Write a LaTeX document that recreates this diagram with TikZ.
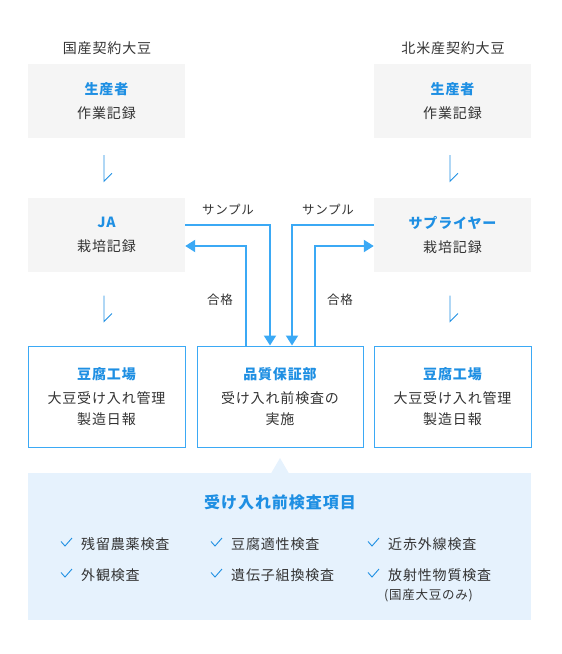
\documentclass[tikz,border=0pt]{standalone}
\usepackage{fontspec}
\setmainfont{Noto Sans CJK JP}[LetterSpace=6]
\usetikzlibrary{arrows.meta}
\definecolor{qblue}{HTML}{1E8FE3}
\definecolor{qline}{HTML}{3BA9F5}
\definecolor{qgrey}{HTML}{F5F5F5}
\definecolor{qpanel}{HTML}{E6F2FD}
\definecolor{qtext}{HTML}{333333}
\tikzset{
  greybox/.style={fill=qgrey, minimum width=157pt, minimum height=74pt, inner sep=0pt,
    align=center, text=qtext, font=\fontsize{14}{24}\selectfont},
  whitebox/.style={draw=qline, line width=1pt, fill=white, minimum height=101pt, inner sep=0pt,
    align=center, text=qtext, font=\fontsize{14}{21}\selectfont},
  flow/.style={draw=qline, line width=2pt, -{Triangle[length=10pt,width=12pt]}},
  tick/.style={draw=qblue, line width=0.9pt},
  lbl/.style={text=qtext, font=\fontsize{12.5}{14}\selectfont},
  item/.style={anchor=west, inner sep=0pt, text=qtext, font=\fontsize{14}{16}\selectfont},
}
\begin{document}
\begin{tikzpicture}[x=1pt, y=-1pt]
  \useasboundingbox (0,0) rectangle (562,654);

  % Titles
  \node[text=qtext, font=\fontsize{14}{16}\selectfont] (titleL) at (107,48) {国産契約大豆};
  \node[text=qtext, font=\fontsize{14}{16}\selectfont] (titleR) at (453,48) {北米産契約大豆};

  % Producers and suppliers
  \node[greybox] (prodL) at (106.5,101) {{\bfseries\color{qblue}生産者}\\作業記録};
  \node[greybox] (prodR) at (452.5,101) {{\bfseries\color{qblue}生産者}\\作業記録};
  \node[greybox] (ja)    at (106.5,234.5) {{\bfseries\color{qblue}JA}\\栽培記録};
  \node[greybox] (sup)   at (452.5,234.5) {{\bfseries\color{qblue}サプライヤー}\\栽培記録};

  % Factories and quality assurance
  \node[whitebox, minimum width=157pt] (facL) at (106.5,396.5)
    {{\bfseries\color{qblue}豆腐工場}\\[3pt]大豆受け入れ管理\\製造日報};
  \node[whitebox, minimum width=166pt] (qa) at (280,396.5)
    {{\bfseries\color{qblue}品質保証部}\\[3pt]受け入れ前検査の\\実施};
  \node[whitebox, minimum width=157pt] (facR) at (452.5,396.5)
    {{\bfseries\color{qblue}豆腐工場}\\[3pt]大豆受け入れ管理\\製造日報};

  % Small down arrows
  \draw[tick] ([xshift=-2.5pt,yshift=-17pt]prodL.south) -- ([xshift=-2.5pt,yshift=16pt]ja.north) -- ++(8,-8);
  \draw[tick] ([xshift=-2.5pt,yshift=-17pt]prodR.south) -- ([xshift=-2.5pt,yshift=16pt]sup.north) -- ++(8,-8);
  \draw[tick] ([xshift=-2.5pt,yshift=-24pt]ja.south) -- ([xshift=-2.5pt,yshift=24pt]facL.north) -- ++(8,-8);
  \draw[tick] ([xshift=-2.5pt,yshift=-24pt]sup.south) -- ([xshift=-2.5pt,yshift=24pt]facR.north) -- ++(8,-8);

  % Samples and approvals
  \draw[flow] ([yshift=9.5pt]ja.east) -| ([xshift=-10pt]qa.north);
  \draw[flow] ([xshift=-34pt]qa.north) |- ([yshift=-11.5pt]ja.east);
  \draw[flow] ([yshift=9.5pt]sup.west) -| ([xshift=12pt]qa.north);
  \draw[flow] ([xshift=35pt]qa.north) |- ([yshift=-11.5pt]sup.west);
  \node[lbl] (smpL) at (228,210) {サンプル};
  \node[lbl] (smpR) at (328,210) {サンプル};
  \node[lbl] (okL)  at (220,300) {合格};
  \node[lbl] (okR)  at (340,300) {合格};

  % Inspection panel
  \fill[qpanel] (28,473) rectangle (531,620);
  \fill[qpanel] (271,473.5) -- (280,458) -- (289,473.5) -- cycle;
  \node[font=\fontsize{16}{18}\selectfont\bfseries, text=qblue] (items) at (280,502) {受け入れ前検査項目};

  \node[item] (i1) at (81,544) {残留農薬検査};
  \node[item] (i2) at (81,575) {外観検査};
  \node[item] (i3) at (231,544) {豆腐適性検査};
  \node[item] (i4) at (231,575) {遺伝子組換検査};
  \node[item] (i5) at (388,544) {近赤外線検査};
  \node[item] (i6) at (388,575) {放射性物質検査};
  \node[item, font=\fontsize{12.5}{14}\selectfont] (i7) at (384,595) {(国産大豆のみ)};

  \draw[tick] ([xshift=-20pt,yshift=2.5pt]i1.west) -- ++(4,4.5) -- ++(7,-8);
  \draw[tick] ([xshift=-20pt,yshift=2.5pt]i2.west) -- ++(4,4.5) -- ++(7,-8);
  \draw[tick] ([xshift=-20pt,yshift=2.5pt]i3.west) -- ++(4,4.5) -- ++(7,-8);
  \draw[tick] ([xshift=-20pt,yshift=2.5pt]i4.west) -- ++(4,4.5) -- ++(7,-8);
  \draw[tick] ([xshift=-20pt,yshift=2.5pt]i5.west) -- ++(4,4.5) -- ++(7,-8);
  \draw[tick] ([xshift=-20pt,yshift=2.5pt]i6.west) -- ++(4,4.5) -- ++(7,-8);
\end{tikzpicture}
\end{document}
